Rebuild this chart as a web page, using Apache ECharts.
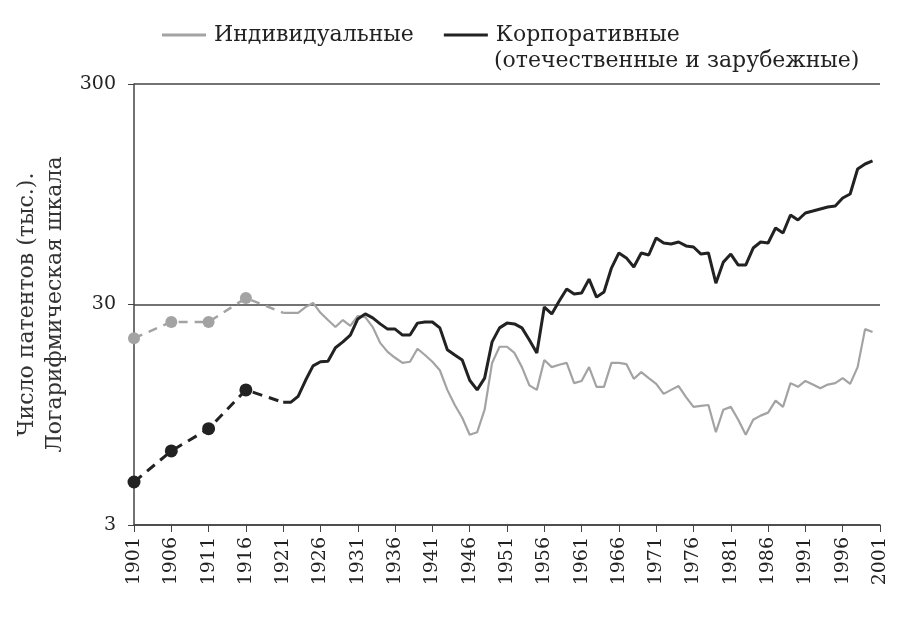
<!DOCTYPE html>
<html>
<head>
<meta charset="utf-8">
<script src="https://cdn.jsdelivr.net/npm/echarts@6/dist/echarts.min.js"></script>
<style>
  html, body { margin: 0; padding: 0; background: #fff; }
  #chart { width: 924px; height: 617px; }
</style>
</head>
<body>
<div id="chart"></div>
<script>
// ранние годы (пунктир, с точками)
const earlyYears = [1901, 1906, 1911, 1916, 1921];
const earlyIndividual = [21.1, 25.0, 25.0, 32.1, 27.5];
const earlyCorporate = [4.7, 6.5, 8.2, 12.3, 10.8];

// ежегодные данные 1921–2000, тыс. патентов
const firstYear = 1921;
const individual = [
  27.5, 27.5, 27.5, 29.2, 30.5, 27.5, 25.5, 23.7, 25.5, 24.0,
  26.6, 26.3, 23.7, 20.1, 18.3, 17.2, 16.3, 16.5, 18.9, 17.7,
  16.5, 15.1, 12.3, 10.5, 9.2, 7.7, 7.9, 10.0, 16.3, 19.3,
  19.3, 18.1, 15.6, 12.9, 12.3, 16.8, 15.6, 16.0, 16.3, 13.2,
  13.5, 15.6, 12.7, 12.7, 16.3, 16.3, 16.1, 13.8, 14.8, 13.9,
  13.1, 11.8, 12.3, 12.8, 11.4, 10.3, 10.4, 10.5, 7.9, 10.0,
  10.3, 9.0, 7.7, 9.0, 9.4, 9.7, 11.0, 10.3, 13.2, 12.7,
  13.5, 13.0, 12.5, 13.0, 13.2, 13.9, 13.1, 15.6, 23.2, 22.5
];
const corporate = [
  10.8, 10.8, 11.5, 13.6, 15.8, 16.5, 16.6, 19.1, 20.3, 21.8,
  25.8, 27.2, 26.1, 24.5, 23.2, 23.2, 21.8, 21.8, 24.7, 25.0,
  25.0, 23.5, 18.7, 17.7, 16.8, 13.6, 12.3, 13.9, 20.3, 23.5,
  24.7, 24.5, 23.5, 20.7, 18.1, 29.2, 27.2, 31.1, 35.3, 33.5,
  33.8, 39.1, 32.4, 34.2, 43.9, 51.4, 48.8, 44.4, 51.4, 50.3,
  60.1, 57.0, 56.4, 57.6, 55.3, 54.7, 50.8, 51.4, 37.5, 46.7,
  50.8, 45.3, 45.3, 54.1, 57.6, 57.0, 66.7, 63.3, 76.4, 72.5,
  78.0, 79.6, 81.3, 83.0, 83.9, 91.2, 95.1, 123.5, 130.1, 134.3
];
const yTicks = [3, 30, 300];

const years = individual.map((_, i) => firstYear + i);
const pairs = (xs, ys) => xs.map((x, i) => [x, ys[i]]);
// последняя точка пунктира — без маркера
const earlyData = (ys) => earlyYears.map((x, i) =>
  i === earlyYears.length - 1 ? { value: [x, ys[i]], symbol: 'none' } : [x, ys[i]]);

const GRAY = '#a3a3a3';
const DARK = '#222222';
const FONT = '"DejaVu Serif", "Liberation Serif", serif';

const chart = echarts.init(document.getElementById('chart'));
chart.setOption({
  animation: false,
  backgroundColor: '#fff',
  grid: { left: 134, right: 44, top: 84, bottom: 92 },
  legend: {
    left: 157,
    top: 19,
    itemWidth: 44,
    itemHeight: 3,
    itemGap: 30,
    icon: 'rect',
    data: ['Индивидуальные', 'Корпоративные'],
    textStyle: { fontFamily: FONT, fontSize: 22, color: '#222', padding: [0, 0, 0, 3] }
  },
  graphic: [{
    type: 'text',
    left: 494,
    top: 50,
    style: { text: '(отечественные и зарубежные)', font: '22px ' + FONT, fill: '#222' }
  }],
  xAxis: {
    type: 'value',
    min: 1901,
    max: 2001,
    interval: 5,
    axisLine: { lineStyle: { color: '#444', width: 1.5 } },
    axisTick: { show: true, length: 7, lineStyle: { color: '#444' } },
    splitLine: { show: false },
    axisLabel: {
      rotate: 90,
      margin: 12,
      fontFamily: FONT,
      fontSize: 19,
      color: '#222',
      formatter: v => String(v)
    }
  },
  yAxis: {
    type: 'log',
    logBase: 10,
    min: 3,
    max: 300,
    name: 'Число патентов (тыс.).\nЛогарифмическая шкала',
    nameLocation: 'middle',
    nameRotate: 90,
    nameGap: 63,
    nameTextStyle: { fontFamily: FONT, fontSize: 22, color: '#333', lineHeight: 28 },
    axisLine: { show: true, lineStyle: { color: '#444', width: 1.5 } },
    axisTick: { show: true, length: 6, customValues: yTicks, lineStyle: { color: '#444' } },
    axisLabel: {
      customValues: yTicks,
      margin: 18,
      fontFamily: FONT,
      fontSize: 19,
      color: '#222'
    },
    splitLine: { show: true, lineStyle: { color: '#444', width: 1.5 } }
  },
  series: [
    {
      name: 'Индивидуальные (ранние)',
      type: 'line',
      data: earlyData(earlyIndividual),
      symbol: 'circle',
      symbolSize: 12,
      itemStyle: { color: GRAY },
      lineStyle: { color: GRAY, width: 2.5, type: [9, 7] },
      z: 3
    },
    {
      name: 'Корпоративные (ранние)',
      type: 'line',
      data: earlyData(earlyCorporate),
      symbol: 'circle',
      symbolSize: 13,
      itemStyle: { color: DARK },
      lineStyle: { color: DARK, width: 3, type: [10, 7] },
      z: 4
    },
    {
      name: 'Индивидуальные',
      type: 'line',
      data: pairs(years, individual),
      showSymbol: false,
      itemStyle: { color: GRAY },
      lineStyle: { color: GRAY, width: 2.2 },
      z: 3
    },
    {
      name: 'Корпоративные',
      type: 'line',
      data: pairs(years, corporate),
      showSymbol: false,
      itemStyle: { color: DARK },
      lineStyle: { color: DARK, width: 3 },
      z: 4
    }
  ]
});
</script>
</body>
</html>
